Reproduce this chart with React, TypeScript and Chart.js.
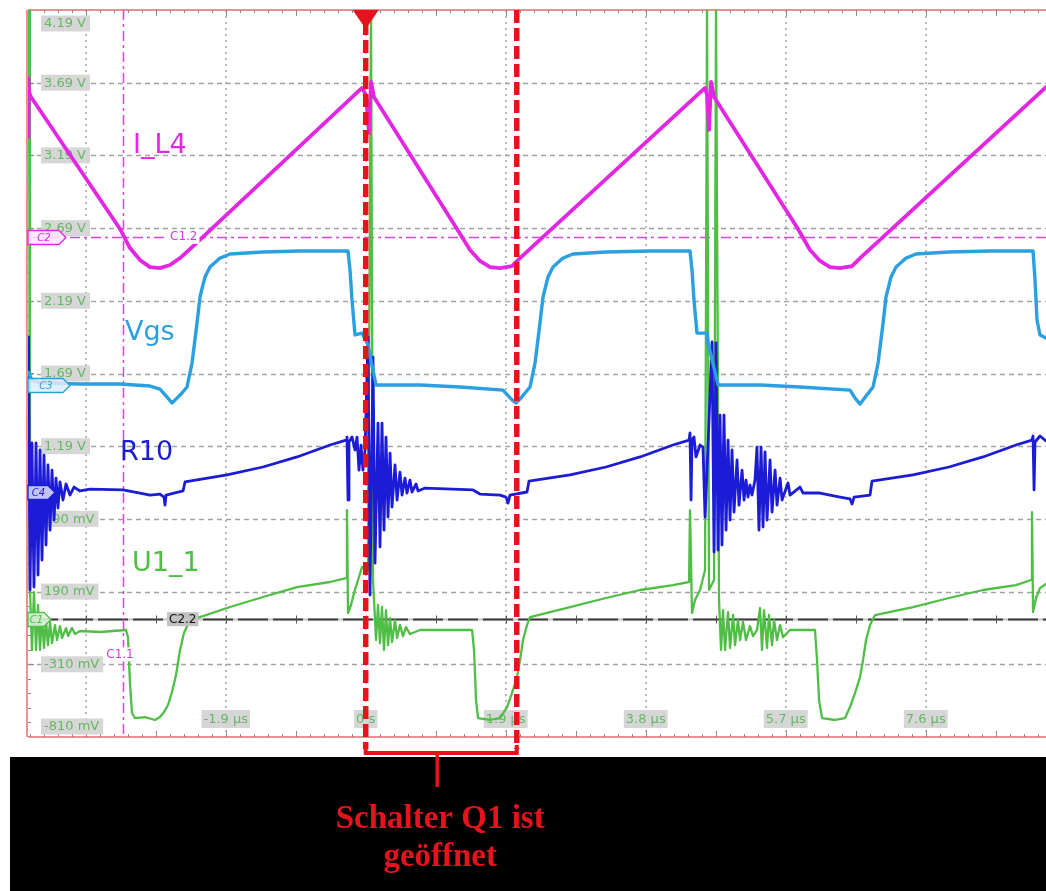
import React, { useEffect, useRef } from 'react';
import { Chart, registerables } from 'chart.js';

Chart.register(...registerables);

type P = [number, number];

// axis ranges (time in µs, voltage in V)
const X_MIN = -4.583;
const X_MAX = 9.232;
const Y_MIN = -0.81;
const Y_MAX = 4.19;

const X_GRID = [-3.8, -1.9, 0, 1.9, 3.8, 5.7, 7.6];
const X_TICK_LABELS = ['', '-1.9 µs', '0 s', '1.9 µs', '3.8 µs', '5.7 µs', '7.6 µs'];
const Y_GRID = [4.19, 3.69, 3.19, 2.69, 2.19, 1.69, 1.19, 0.69, 0.19, -0.31, -0.81];
const Y_TICK_LABELS = ['4.19 V', '3.69 V', '3.19 V', '2.69 V', '2.19 V', '1.69 V', '1.19 V', '690 mV', '190 mV', '-310 mV', '-810 mV'];

const CURSOR_C11_T = -3.294;
const CURSOR_C12_V = 2.63;
const ZERO_C22_V = 0;
const Q1_OPEN: P = [0, 2.05];
const BRACKET_STEM_T = 0.97;

const SERIES_NAMES = ['I_L4', 'Vgs', 'R10', 'U1_1'];
const ANNOTATION_LINES = ['Schalter Q1 ist', 'geöffnet'];

const I_L4: P[] = [
  [-4.583, 3.317], [-4.576, 3.722], [-4.569, 3.626], [-4.542, 3.592], [-3.334, 2.684], [-3.199, 2.553],
  [-3.063, 2.47], [-2.927, 2.422], [-2.792, 2.415], [-2.656, 2.436], [-2.52, 2.484], [-2.385, 2.546],
  [-0.05, 3.654], [0.004, 3.605], [0.045, 3.344], [0.072, 3.695], [0.112, 3.592], [1.239, 2.684],
  [1.416, 2.539], [1.551, 2.464], [1.687, 2.422], [1.823, 2.415], [1.985, 2.429], [2.094, 2.484],
  [4.605, 3.654], [4.632, 3.605], [4.659, 3.365], [4.686, 3.695], [4.727, 3.592], [5.867, 2.684],
  [6.03, 2.539], [6.166, 2.464], [6.301, 2.422], [6.437, 2.415], [6.6, 2.429], [6.709, 2.484],
  [9.232, 3.66],
];

const VGS: P[] = [
  [-4.583, 1.7], [-4.529, 1.645], [-4.42, 1.625], [-3.877, 1.618], [-3.334, 1.618], [-2.927, 1.604],
  [-2.792, 1.583], [-2.683, 1.521], [-2.629, 1.487], [-2.575, 1.514], [-2.493, 1.556], [-2.425, 1.597],
  [-2.357, 1.762], [-2.289, 2.037], [-2.249, 2.216], [-2.181, 2.354], [-2.113, 2.422], [-1.977, 2.484],
  [-1.841, 2.512], [-1.394, 2.526], [-0.892, 2.532], [-0.24, 2.532], [-0.213, 2.402], [-0.186, 2.195],
  [-0.145, 1.955], [-0.05, 1.968], [0.031, 1.886], [0.085, 1.748], [0.14, 1.611], [0.737, 1.611],
  [1.28, 1.597], [1.863, 1.576], [1.985, 1.508], [2.039, 1.487], [2.094, 1.514], [2.162, 1.556],
  [2.23, 1.597], [2.298, 1.762], [2.365, 2.037], [2.406, 2.216], [2.474, 2.354], [2.542, 2.422],
  [2.677, 2.484], [2.813, 2.512], [3.261, 2.526], [3.858, 2.532], [4.401, 2.532], [4.428, 2.402],
  [4.455, 2.195], [4.496, 1.968], [4.632, 1.968], [4.646, 1.9], [4.741, 1.7], [4.782, 1.611],
  [5.352, 1.611], [5.895, 1.597], [6.573, 1.576], [6.641, 1.521], [6.709, 1.48], [6.79, 1.535],
  [6.885, 1.597], [6.953, 1.762], [7.021, 2.037], [7.061, 2.216], [7.129, 2.354], [7.197, 2.422],
  [7.333, 2.484], [7.468, 2.512], [7.916, 2.526], [8.473, 2.532], [9.056, 2.532], [9.083, 2.333],
  [9.11, 2.058], [9.151, 1.955], [9.232, 1.934],
];

const R10: P[] = [
  [-4.583, 0.889], [-4.576, 1.941], [-4.556, 0.201], [-4.529, 1.212], [-4.502, 0.221], [-4.474, 1.212],
  [-4.447, 0.304], [-4.42, 1.164], [-4.393, 0.407], [-4.366, 1.129], [-4.339, 0.51], [-4.312, 1.061],
  [-4.284, 0.613], [-4.257, 1.026], [-4.23, 0.682], [-4.203, 0.971], [-4.176, 0.765], [-4.149, 0.944],
  [-4.108, 0.82], [-4.067, 0.93], [-4.013, 0.854], [-3.959, 0.909], [-3.877, 0.882], [-3.742, 0.895],
  [-3.294, 0.889], [-3.063, 0.868], [-2.927, 0.854], [-2.792, 0.861], [-2.737, 0.84], [-2.724, 0.785],
  [-2.71, 0.854], [-2.479, 0.882], [-2.452, 0.944], [-1.882, 0.992], [-1.394, 1.047], [-0.932, 1.116],
  [-0.484, 1.198], [-0.267, 1.232], [-0.254, 1.253], [-0.24, 0.82], [-0.227, 1.219], [-0.186, 1.253],
  [-0.145, 1.164], [-0.118, 1.253], [-0.091, 1.026], [-0.064, 1.198], [-0.037, 1.026], [-0.009, 1.164],
  [0.031, 1.941], [0.058, 0.166], [0.099, 1.803], [0.126, 0.386], [0.167, 1.349], [0.194, 0.497],
  [0.221, 1.349], [0.248, 0.613], [0.275, 1.253], [0.303, 0.703], [0.33, 1.143], [0.357, 0.772],
  [0.398, 1.061], [0.425, 0.82], [0.465, 1.012], [0.493, 0.854], [0.533, 0.971], [0.56, 0.868],
  [0.601, 0.957], [0.628, 0.875], [0.683, 0.93], [0.71, 0.882], [0.805, 0.902], [1.456, 0.889],
  [1.551, 0.861], [1.823, 0.854], [1.904, 0.84], [1.931, 0.799], [1.958, 0.854], [2.189, 0.875],
  [2.216, 0.95], [2.773, 0.992], [3.261, 1.047], [3.723, 1.116], [4.17, 1.198], [4.388, 1.232],
  [4.401, 1.281], [4.415, 0.82], [4.428, 1.232], [4.455, 1.253], [4.482, 1.116], [4.537, 1.198],
  [4.577, 1.184], [4.605, 0.703], [4.645, 1.184], [4.7, 1.907], [4.727, 0.462], [4.754, 1.9],
  [4.781, 0.476], [4.808, 1.404], [4.835, 0.51], [4.862, 1.404], [4.89, 0.613], [4.917, 1.232],
  [4.944, 0.682], [4.971, 1.164], [4.998, 0.737], [5.039, 1.095], [5.066, 0.785], [5.107, 1.026],
  [5.134, 0.82], [5.161, 0.957], [5.188, 0.84], [5.215, 0.923], [5.242, 0.854], [5.283, 0.957],
  [5.31, 1.184], [5.337, 0.613], [5.365, 1.184], [5.392, 0.634], [5.419, 1.15], [5.446, 0.682],
  [5.487, 1.095], [5.514, 0.737], [5.555, 1.026], [5.582, 0.785], [5.623, 0.971], [5.65, 0.82],
  [5.731, 0.937], [5.758, 0.854], [5.894, 0.909], [5.935, 0.868], [6.165, 0.868], [6.437, 0.84],
  [6.572, 0.827], [6.6, 0.792], [6.627, 0.84], [6.844, 0.854], [6.871, 0.95], [7.427, 0.992],
  [7.916, 1.047], [8.377, 1.116], [8.825, 1.198], [9.042, 1.232], [9.056, 1.26], [9.07, 0.889],
  [9.083, 1.219], [9.151, 1.26], [9.232, 1.226],
];

const U1_1: P[] = [
  [-4.569, 4.19], [-4.556, 0.201], [-4.529, -0.212], [-4.502, 0.187], [-4.474, -0.212], [-4.447, 0.098],
  [-4.42, -0.212], [-4.393, 0.029], [-4.366, -0.198], [-4.339, -0.006], [-4.312, -0.178], [-4.284, -0.019],
  [-4.257, -0.164], [-4.217, -0.04], [-4.189, -0.143], [-4.149, -0.047], [-4.122, -0.129], [-4.067, -0.061],
  [-4.04, -0.116], [-3.986, -0.061], [-3.945, -0.102], [-3.877, -0.081], [-3.606, -0.088], [-3.253, -0.074],
  [-3.226, -0.123], [-3.199, -0.439], [-3.172, -0.645], [-3.131, -0.68], [-2.995, -0.673], [-2.859, -0.693],
  [-2.792, -0.673], [-2.737, -0.638], [-2.683, -0.59], [-2.629, -0.501], [-2.574, -0.384], [-2.52, -0.212],
  [-2.466, -0.095], [-2.412, -0.033], [-2.289, 0.008], [-1.842, 0.084], [-1.394, 0.153], [-0.932, 0.221],
  [-0.484, 0.256], [-0.267, 0.283], [-0.254, 0.751], [-0.24, 0.043], [-0.199, 0.098], [-0.159, 0.18],
  [-0.104, 0.27], [-0.05, 0.359], [0.031, 0.338], [0.072, 4.19], [0.099, 0.27], [0.14, -0.143],
  [0.167, 0.098], [0.194, -0.164], [0.221, 0.084], [0.248, -0.212], [0.275, 0.063], [0.303, -0.178],
  [0.33, 0.008], [0.357, -0.157], [0.398, -0.006], [0.425, -0.129], [0.465, -0.04], [0.506, -0.116],
  [0.547, -0.054], [0.601, -0.102], [0.737, -0.074], [1.443, -0.074], [1.47, -0.212], [1.497, -0.556],
  [1.524, -0.68], [1.687, -0.693], [1.823, -0.68], [1.918, -0.604], [1.985, -0.508], [2.053, -0.398],
  [2.094, -0.281], [2.135, -0.143], [2.189, -0.04], [2.23, 0.015], [2.773, 0.084], [3.261, 0.146],
  [3.723, 0.201], [4.17, 0.235], [4.388, 0.256], [4.401, 0.751], [4.428, 0.043], [4.469, 0.132],
  [4.537, 0.201], [4.605, 0.338], [4.632, 4.19], [4.659, 0.201], [4.727, 0.27], [4.754, 4.19],
  [4.795, 0.132], [4.822, -0.212], [4.849, 0.063], [4.876, -0.212], [4.917, 0.049], [4.944, -0.198],
  [4.985, 0.029], [5.012, -0.178], [5.052, -0.006], [5.08, -0.143], [5.12, -0.019], [5.161, -0.143],
  [5.215, -0.047], [5.256, -0.116], [5.31, -0.074], [5.351, 0.077], [5.378, -0.212], [5.405, 0.063],
  [5.446, -0.198], [5.473, 0.029], [5.514, -0.178], [5.541, -0.006], [5.582, -0.143], [5.623, -0.04],
  [5.663, -0.123], [5.758, -0.074], [6.097, -0.074], [6.125, -0.281], [6.152, -0.556], [6.193, -0.68],
  [6.369, -0.693], [6.505, -0.68], [6.572, -0.604], [6.64, -0.508], [6.708, -0.398], [6.749, -0.281],
  [6.79, -0.143], [6.844, -0.04], [6.912, 0.029], [7.427, 0.084], [7.916, 0.146], [8.377, 0.201],
  [8.825, 0.235], [9.029, 0.27], [9.042, 0.737], [9.056, 0.049], [9.097, 0.146], [9.151, 0.215],
  [9.232, 0.242],
];

const MAGENTA = '#e326e3';
const LIGHTBLUE = '#2a9fe2';
const DARKBLUE = '#1c1cd6';
const GREEN = '#4fbe45';
const RED = '#e5141c';
const TICK_GREEN = '#63b963';

const toXY = (arr: P[]) => arr.map(([x, y]) => ({ x, y }));

const scopePlugin = {
  id: 'scopeDecor',
  beforeDatasetsDraw(chart: any) {
    const { ctx, chartArea: a, scales } = chart;
    const X = (t: number) => scales.x.getPixelForValue(t);
    const Y = (v: number) => scales.y.getPixelForValue(v);
    const line = (x1: number, y1: number, x2: number, y2: number) => {
      ctx.beginPath(); ctx.moveTo(x1, y1); ctx.lineTo(x2, y2); ctx.stroke();
    };
    ctx.save();
    // black lower panel
    ctx.fillStyle = '#000';
    ctx.fillRect(10, a.bottom + 20, chart.width - 10, chart.height - a.bottom - 20);

    // grid
    ctx.strokeStyle = '#a2a2a2';
    ctx.lineWidth = 1.5;
    ctx.setLineDash([2, 4]);
    X_GRID.forEach((t) => { const px = Math.round(X(t)); line(px, a.top, px, a.bottom); });
    ctx.setLineDash([5, 4]);
    ctx.lineWidth = 1.3;
    Y_GRID.slice(1, -1).forEach((v) => { const py = Math.round(Y(v)) + 0.5; line(a.left, py, a.right, py); });
    ctx.setLineDash([]);

    // borders
    ctx.strokeStyle = '#e46a6a';
    ctx.lineWidth = 1.5;
    line(a.left, a.top, a.right, a.top);
    line(a.left, a.bottom, a.right, a.bottom);
    line(a.left - 1, a.top, a.left - 1, a.bottom);

    // border ticks
    ctx.strokeStyle = '#8a8a8a';
    ctx.lineWidth = 1;
    for (let k = -4; k <= 70; k++) {
      const t = X_GRID[0] + k * 0.19;
      if (t <= X_MIN || t >= X_MAX) continue;
      const px = Math.round(X(t)) + 0.5;
      const len = k % 5 === 0 ? 6 : 3;
      line(px, a.top, px, a.top + len);
      line(px, a.bottom - len, px, a.bottom);
    }
    for (let k = 1; k < 50; k++) {
      const py = Math.round(Y(Y_MAX - k * 0.1)) + 0.5;
      const len = k % 5 === 0 ? 6 : 3;
      line(a.left, py, a.left + len, py);
    }

    // C2.2 zero line
    const zy = Math.round(Y(ZERO_C22_V)) + 0.5;
    ctx.strokeStyle = '#c4c4c4';
    ctx.lineWidth = 2;
    line(a.left, zy, a.right, zy);
    ctx.strokeStyle = '#3a3a3a';
    ctx.setLineDash([30, 5]);
    line(a.left, zy, a.right, zy);
    ctx.setLineDash([]);
    ctx.lineWidth = 1;
    ctx.strokeStyle = '#555';
    for (let k = 0; k < 14; k++) {
      const px = Math.round(X(X_GRID[0] + k * 0.95)) + 0.5;
      if (px > a.right) break;
      line(px, zy - 4, px, zy + 4);
    }

    // magenta cursors
    ctx.strokeStyle = '#e040e0';
    ctx.lineWidth = 1.5;
    ctx.setLineDash([10, 4, 3, 4]);
    const cy = Math.round(Y(CURSOR_C12_V)) + 0.5;
    line(a.left, cy, a.right, cy);
    const cx = Math.round(X(CURSOR_C11_T)) + 0.5;
    line(cx, a.top, cx, a.bottom);
    ctx.setLineDash([]);

    // tick label boxes
    ctx.font = '13px "DejaVu Sans"';
    ctx.textBaseline = 'middle';
    ctx.textAlign = 'left';
    Y_GRID.forEach((v, i) => {
      const lab = Y_TICK_LABELS[i];
      if (!lab) return;
      let py = Y(v);
      py = Math.max(a.top + 13.5, Math.min(a.bottom - 10.5, py));
      const w = ctx.measureText(lab).width + 7;
      ctx.fillStyle = '#d6d6d6';
      ctx.fillRect(a.left + 13, py - 8, w, 16);
      ctx.fillStyle = TICK_GREEN;
      ctx.fillText(lab, a.left + 16, py + 0.5);
    });
    ctx.textAlign = 'center';
    X_GRID.forEach((t, i) => {
      const lab = X_TICK_LABELS[i];
      if (!lab) return;
      const px = X(t);
      const py = a.bottom - 18;
      const w = ctx.measureText(lab).width + 4;
      ctx.fillStyle = '#d6d6d6';
      ctx.fillRect(px - w / 2, py - 9, w, 18);
      ctx.fillStyle = TICK_GREEN;
      ctx.fillText(lab, px, py + 0.5);
    });
    ctx.restore();
  },
  afterDatasetsDraw(chart: any) {
    const { ctx, chartArea: a, scales } = chart;
    const X = (t: number) => scales.x.getPixelForValue(t);
    const Y = (v: number) => scales.y.getPixelForValue(v);
    const line = (x1: number, y1: number, x2: number, y2: number) => {
      ctx.beginPath(); ctx.moveTo(x1, y1); ctx.lineTo(x2, y2); ctx.stroke();
    };
    ctx.save();

    // channel tags at left edge
    const tag = (v: number, w: number, color: string, fill: string, text: string) => {
      const y = Math.round(Y(v)) + 0.5;
      const x0 = a.left;
      ctx.beginPath();
      ctx.moveTo(x0, y - 7);
      ctx.lineTo(x0 + w - 7, y - 7);
      ctx.lineTo(x0 + w, y);
      ctx.lineTo(x0 + w - 7, y + 7);
      ctx.lineTo(x0, y + 7);
      ctx.closePath();
      ctx.fillStyle = fill;
      ctx.fill();
      ctx.strokeStyle = color;
      ctx.lineWidth = 1.3;
      ctx.stroke();
      ctx.fillStyle = color;
      ctx.font = 'italic 10px "DejaVu Sans"';
      ctx.textAlign = 'center';
      ctx.textBaseline = 'middle';
      ctx.fillText(text, x0 + (w - 6) / 2, y + 0.5);
    };
    tag(CURSOR_C12_V, 38, MAGENTA, 'rgba(255,230,255,0.85)', 'C2');
    tag(1.61, 42, LIGHTBLUE, 'rgba(220,238,250,0.85)', 'C3');
    tag(0.875, 27, DARKBLUE, 'rgba(225,225,250,0.85)', 'C4');
    tag(ZERO_C22_V, 23, GREEN, 'rgba(225,245,225,0.85)', 'C1');

    // channel names
    ctx.font = '27px "DejaVu Sans"';
    ctx.textAlign = 'left';
    ctx.textBaseline = 'alphabetic';
    const names: [string, string, number, number][] = [
      [SERIES_NAMES[0], MAGENTA, 105, 143],
      [SERIES_NAMES[1], LIGHTBLUE, 97, 330],
      [SERIES_NAMES[2], DARKBLUE, 92, 450],
      [SERIES_NAMES[3], GREEN, 104, 561],
    ];
    names.forEach(([n, c, dx, dy]) => { ctx.fillStyle = c; ctx.fillText(n, a.left + dx, a.top + dy); });

    // cursor labels
    ctx.font = '12px "DejaVu Sans"';
    ctx.textBaseline = 'middle';
    ctx.textAlign = 'left';
    const c12y = Y(CURSOR_C12_V);
    let w = ctx.measureText('C1.2').width;
    ctx.fillStyle = '#fff';
    ctx.fillRect(a.left + 140, c12y - 7, w + 4, 14);
    ctx.fillStyle = '#d838d8';
    ctx.fillText('C1.2', a.left + 142, c12y + 0.5);
    ctx.textAlign = 'center';
    ctx.fillStyle = '#fff';
    const c11x = X(CURSOR_C11_T);
    w = ctx.measureText('C1.1').width;
    ctx.fillRect(c11x - 3 - w / 2 - 1, Y(-0.31) - 17, w + 2, 14);
    ctx.fillStyle = '#d838d8';
    ctx.fillText('C1.1', c11x - 3, Y(-0.31) - 9.5);
    // C2.2 label
    const zy = Y(ZERO_C22_V);
    ctx.font = '12px "DejaVu Sans"';
    w = ctx.measureText('C2.2').width;
    ctx.fillStyle = '#c2c2c2';
    ctx.fillRect(a.left + 139, zy - 7, w + 4, 14);
    ctx.fillStyle = '#111';
    ctx.textAlign = 'left';
    ctx.fillText('C2.2', a.left + 141, zy + 0.5);

    // red dashed markers for the Q1-open interval
    const x1 = X(Q1_OPEN[0]);
    const x2 = X(Q1_OPEN[1]);
    const by = a.bottom + 16;
    ctx.strokeStyle = RED;
    ctx.lineWidth = 5.5;
    ctx.setLineDash([13, 5]);
    line(x1, a.top + 12, x1, by - 4);
    line(x2, a.top, x2, by - 4);
    ctx.setLineDash([]);
    // trigger triangle
    ctx.fillStyle = RED;
    ctx.beginPath();
    ctx.moveTo(x1 - 13, a.top);
    ctx.lineTo(x1 + 13, a.top);
    ctx.lineTo(x1, a.top + 19);
    ctx.closePath();
    ctx.fill();
    // bracket
    ctx.lineWidth = 4;
    ctx.lineJoin = 'miter';
    ctx.beginPath();
    ctx.moveTo(x1, by - 8);
    ctx.lineTo(x1, by);
    ctx.lineTo(x2, by);
    ctx.lineTo(x2, by - 8);
    ctx.stroke();
    const sx = X(BRACKET_STEM_T);
    ctx.lineWidth = 3.5;
    line(sx, by, sx, by + 34);

    // annotation text
    ctx.font = 'bold 33px "Liberation Serif"';
    ctx.textAlign = 'center';
    ctx.textBaseline = 'alphabetic';
    ctx.fillStyle = RED;
    ctx.fillText(ANNOTATION_LINES[0], sx + 3, a.bottom + 91);
    ctx.fillText(ANNOTATION_LINES[1], sx + 3, a.bottom + 129);
    ctx.restore();
  },
};

export default function App() {
  const ref = useRef<HTMLCanvasElement>(null);
  useEffect(() => {
    if (!ref.current) return;
    const mk = (label: string, data: P[], color: string, width: number, order: number) => ({
      label,
      data: toXY(data),
      borderColor: color,
      backgroundColor: color,
      borderWidth: width,
      pointRadius: 0,
      tension: 0,
      fill: false,
      order,
      borderJoinStyle: 'round' as const,
      borderCapStyle: 'round' as const,
    });
    const chart = new Chart(ref.current, {
      type: 'line',
      data: {
        datasets: [
          mk(SERIES_NAMES[0], I_L4, MAGENTA, 3.8, 1),
          mk(SERIES_NAMES[1], VGS, LIGHTBLUE, 3.4, 2),
          mk(SERIES_NAMES[2], R10, DARKBLUE, 2.8, 3),
          mk(SERIES_NAMES[3], U1_1, GREEN, 2.3, 4),
        ],
      },
      options: {
        animation: false,
        responsive: false,
        maintainAspectRatio: false,
        layout: { padding: { left: 28, top: 10, right: 0, bottom: 154 } },
        plugins: { legend: { display: false }, tooltip: { enabled: false } },
        scales: {
          x: { type: 'linear', min: X_MIN, max: X_MAX, display: false },
          y: { type: 'linear', min: Y_MIN, max: Y_MAX, display: false },
        },
      },
      plugins: [scopePlugin],
    });
    return () => chart.destroy();
  }, []);
  return (
    <div style={{ position: 'fixed', left: 0, top: 0, width: 1046, height: 891, background: '#fff' }}>
      <canvas ref={ref} width={1046} height={891} style={{ width: 1046, height: 891, display: 'block' }} />
    </div>
  );
}
